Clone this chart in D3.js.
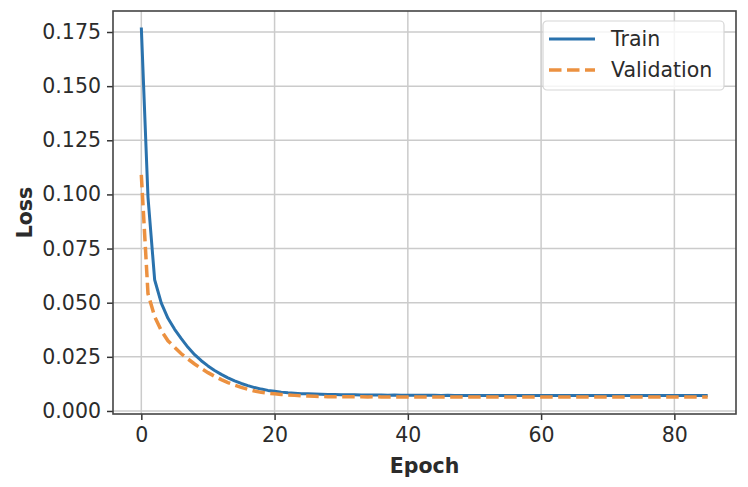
<!DOCTYPE html>
<html>
<head>
<meta charset="utf-8">
<script src="https://cdn.jsdelivr.net/npm/d3@7"></script>
<style>
  body { margin: 0; background: #fff; }
  svg text { font-family: 'DejaVu Sans', sans-serif; fill: #2b2b2b; }
</style>
</head>
<body>
<svg id="chart"></svg>
<script>
// loss per epoch
const epochs = d3.range(0, 86);
const trainLoss = [
  0.1771, 0.0988, 0.0606, 0.0498, 0.0428, 0.0377, 0.0334, 0.0294, 0.0260, 0.0232,
  0.0208, 0.0187, 0.0169, 0.0153, 0.0139, 0.0127, 0.0117, 0.0108, 0.0101, 0.0095,
  0.0091, 0.0087, 0.0084, 0.0082, 0.0080, 0.0079, 0.0078, 0.0077, 0.0076, 0.0076,
  0.0075, 0.0075, 0.0075, 0.0074, 0.0074, 0.0074, 0.0074, 0.0073, 0.0074, 0.0073,
  0.0073, 0.0073, 0.0073, 0.0073, 0.0073, 0.0072, 0.0073, 0.0072, 0.0072, 0.0072,
  0.0072, 0.0072, 0.0072, 0.0072, 0.0072, 0.0072, 0.0072, 0.0072, 0.0072, 0.0072,
  0.0072, 0.0072, 0.0072, 0.0072, 0.0072, 0.0072, 0.0072, 0.0072, 0.0072, 0.0072,
  0.0072, 0.0072, 0.0072, 0.0072, 0.0072, 0.0072, 0.0072, 0.0072, 0.0072, 0.0072,
  0.0072, 0.0072, 0.0072, 0.0072, 0.0072, 0.0072
];
const valLoss = [
  0.1090, 0.0542, 0.0436, 0.0371, 0.0324, 0.0294, 0.0264, 0.0240, 0.0217, 0.0196,
  0.0177, 0.0160, 0.0145, 0.0131, 0.0119, 0.0109, 0.0100, 0.0092, 0.0086, 0.0082,
  0.0079, 0.0076, 0.0074, 0.0072, 0.0070, 0.0069, 0.0068, 0.0067, 0.0066, 0.0066,
  0.0066, 0.0066, 0.0066, 0.0066, 0.0065, 0.0066, 0.0065, 0.0065, 0.0065, 0.0065,
  0.0065, 0.0065, 0.0065, 0.0065, 0.0065, 0.0065, 0.0065, 0.0065, 0.0065, 0.0065,
  0.0065, 0.0065, 0.0065, 0.0065, 0.0065, 0.0065, 0.0065, 0.0065, 0.0065, 0.0065,
  0.0065, 0.0065, 0.0065, 0.0065, 0.0065, 0.0065, 0.0065, 0.0065, 0.0065, 0.0065,
  0.0065, 0.0065, 0.0065, 0.0065, 0.0065, 0.0065, 0.0065, 0.0065, 0.0065, 0.0065,
  0.0065, 0.0065, 0.0065, 0.0065, 0.0065, 0.0065
];
const xTicks = [0, 20, 40, 60, 80];
const yTicks = [0, 0.025, 0.05, 0.075, 0.1, 0.125, 0.15, 0.175];
const seriesNames = ['Train', 'Validation'];

const W = 748, H = 487;
const margin = {top: 11, right: 12, bottom: 73, left: 113};
const width = W - margin.left - margin.right;
const height = H - margin.top - margin.bottom;
const fontSize = 20.5;
const blue = '#2a72ad', orange = '#ec9140';

const svg = d3.select('#chart').attr('width', W).attr('height', H);
const g = svg.append('g')
    .attr('transform', 'translate(' + margin.left + ',' + margin.top + ')');

// 5% padding on x like matplotlib; y limits as seen in the picture
const xPad = (d3.max(epochs) - d3.min(epochs)) * 0.05;
const x = d3.scaleLinear()
    .domain([d3.min(epochs) - xPad, d3.max(epochs) + xPad])
    .range([0, width]);
const y = d3.scaleLinear()
    .domain([-0.0014, 0.1847])
    .range([height, 0]);

// grid
g.append('g').selectAll('line').data(xTicks).join('line')
    .attr('x1', d => x(d)).attr('x2', d => x(d))
    .attr('y1', 0).attr('y2', height)
    .attr('stroke', '#cbcbcb').attr('stroke-width', 1.5);
g.append('g').selectAll('line').data(yTicks).join('line')
    .attr('x1', 0).attr('x2', width)
    .attr('y1', d => y(d)).attr('y2', d => y(d))
    .attr('stroke', '#cbcbcb').attr('stroke-width', 1.5);

// axes
const xAxis = g.append('g')
    .attr('transform', 'translate(0,' + height + ')')
    .call(d3.axisBottom(x).tickValues(xTicks).tickSize(6).tickPadding(6).tickSizeOuter(0));
const yAxis = g.append('g')
    .call(d3.axisLeft(y).tickValues(yTicks).tickFormat(d3.format('.3f'))
      .tickSize(6).tickPadding(6).tickSizeOuter(0));
[xAxis, yAxis].forEach(a => {
  a.select('.domain').remove();
  a.selectAll('.tick line').attr('stroke', '#333').attr('stroke-width', 1.5);
  a.selectAll('.tick text')
      .style('font-size', fontSize + 'px')
      .attr('fill', '#2b2b2b');
});
xAxis.selectAll('.tick text').attr('dy', '0.78em');

// lines
const line = d3.line()
    .x((d, i) => x(epochs[i]))
    .y(d => y(d));
g.append('path')
    .datum(trainLoss)
    .attr('fill', 'none')
    .attr('stroke', blue)
    .attr('stroke-width', 3)
    .attr('stroke-linejoin', 'round')
    .attr('d', line);
g.append('path')
    .datum(valLoss)
    .attr('fill', 'none')
    .attr('stroke', orange)
    .attr('stroke-width', 3.5)
    .attr('stroke-dasharray', '12.5,5.5')
    .attr('d', line);

// frame
g.append('rect')
    .attr('width', width).attr('height', height)
    .attr('fill', 'none')
    .attr('stroke', '#444')
    .attr('stroke-width', 1.6);

// axis labels
svg.append('text')
    .attr('x', margin.left + width / 2)
    .attr('y', 473)
    .attr('text-anchor', 'middle')
    .style('font-size', fontSize + 'px')
    .style('font-weight', 'bold')
    .text('Epoch');
svg.append('text')
    .attr('transform', 'translate(31.5,' + (margin.top + height / 2) + ') rotate(-90)')
    .attr('text-anchor', 'middle')
    .style('font-size', fontSize + 'px')
    .style('font-weight', 'bold')
    .text('Loss');

// legend
const legend = svg.append('g').attr('transform', 'translate(543,21)');
legend.append('rect')
    .attr('width', 181).attr('height', 69)
    .attr('rx', 4)
    .attr('fill', '#fff').attr('fill-opacity', 0.8)
    .attr('stroke', '#d6d6d6').attr('stroke-width', 1.2);
seriesNames.forEach((name, i) => {
  const ly = 18 + i * 31;
  legend.append('line')
      .attr('x1', 6).attr('x2', 52)
      .attr('y1', ly).attr('y2', ly)
      .attr('stroke', i === 0 ? blue : orange)
      .attr('stroke-width', i === 0 ? 3 : 3.5)
      .attr('stroke-dasharray', i === 0 ? null : '12.5,5.5');
  legend.append('text')
      .attr('x', 68)
      .attr('y', ly)
      .attr('dy', '0.36em')
      .style('font-size', fontSize + 'px')
      .text(name);
});
</script>
</body>
</html>
